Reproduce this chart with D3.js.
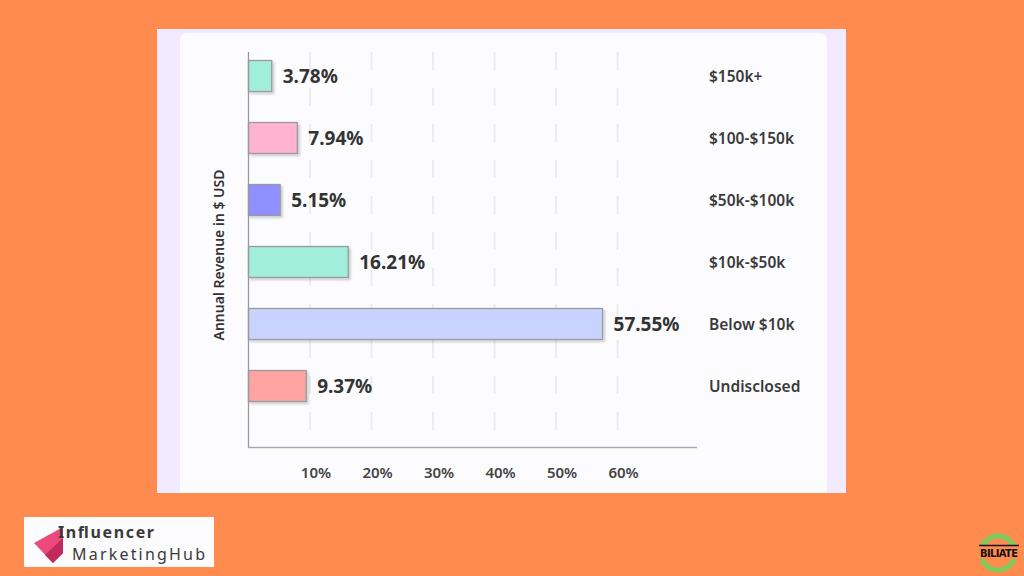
<!DOCTYPE html>
<html><head><meta charset="utf-8">
<script src="https://cdn.jsdelivr.net/npm/d3@7"></script>
<style>html,body{margin:0;padding:0;background:#FF8C4E;}svg{display:block;}</style>
</head><body>
<svg id="c" width="1024" height="576"></svg>
<script>
const categories = ["$150k+", "$100-$150k", "$50k-$100k", "$10k-$50k", "Below $10k", "Undisclosed"];
const values = [3.78, 7.94, 5.15, 16.21, 57.55, 9.37];
const barColors = ["#A0EEDB", "#FFB3CF", "#8F8FFF", "#A0EEDB", "#C9D3FF", "#FFA3A3"];
const tickValues = [10, 20, 30, 40, 50, 60];
const tickLabels = ["10%", "20%", "30%", "40%", "50%", "60%"];
const yTitle = "Annual Revenue in $ USD";

const svg = d3.select("#c");
const font = "'Noto Sans', 'Open Sans', sans-serif";

svg.append("rect").attr("width",1024).attr("height",576).attr("fill","#FF8C4E");
// panel
svg.append("rect").attr("x",157).attr("y",29).attr("width",689).attr("height",464).attr("fill","#F2EAFE");
svg.append("path").attr("d","M180,493 V41 Q180,33 188,33 H819 Q827,33 827,41 V493 Z").attr("fill","#FCFCFF");

const x = d3.scaleLinear().domain([0, 72.5]).range([248.5, 694.5]);
const y = d3.scaleBand().domain(categories).range([45, 417]).paddingInner(0.5).paddingOuter(0.25);

// gridlines
svg.append("g").selectAll("line").data(tickValues).join("line")
  .attr("x1", d=>x(d)).attr("x2", d=>x(d)).attr("y1", 52).attr("y2", 446)
  .attr("stroke","#ECECEC").attr("stroke-width",2).attr("stroke-dasharray","18,18");

// shadow filter
const defs = svg.append("defs");
const f = defs.append("filter").attr("id","sh").attr("x","-10%").attr("y","-20%").attr("width","130%").attr("height","160%");
f.append("feDropShadow").attr("dx",2).attr("dy",2).attr("stdDeviation",1.2).attr("flood-color","#000").attr("flood-opacity",0.18);

svg.append("g").selectAll("rect").data(values).join("rect")
  .attr("x", x(0)).attr("y", (d,i)=>y(categories[i]))
  .attr("width", d=>x(d)-x(0)).attr("height", y.bandwidth())
  .attr("fill", (d,i)=>barColors[i]).attr("stroke","#9A9A9A").attr("stroke-width",1.3)
  .attr("filter","url(#sh)");

// value labels
svg.append("g").selectAll("text").data(values).join("text")
  .attr("x", d=>x(d)+11).attr("y", (d,i)=>y(categories[i])+y.bandwidth()/2)
  .attr("dy","0.36em").attr("font-family",font).attr("font-weight",700).attr("font-size",19)
  .attr("fill","#333").text(d=>d.toFixed(2)+"%");

// category labels on the right
svg.append("g").selectAll("text").data(categories).join("text")
  .attr("x", 709).attr("y", d=>y(d)+y.bandwidth()/2)
  .attr("dy","0.36em").attr("font-family",font).attr("font-weight",600).attr("font-size",15.5)
  .attr("fill","#3a3a3a").text(d=>d);

// axes lines
svg.append("line").attr("x1",248.5).attr("x2",248.5).attr("y1",52).attr("y2",447.5).attr("stroke","#999").attr("stroke-width",1.3);
svg.append("line").attr("x1",248).attr("x2",697).attr("y1",447.5).attr("y2",447.5).attr("stroke","#aaa").attr("stroke-width",1.3);

// x tick labels
svg.append("g").selectAll("text").data(tickValues).join("text")
  .attr("x", d=>x(d)+6).attr("y", 473).attr("dy","0.36em").attr("text-anchor","middle")
  .attr("font-family",font).attr("font-weight",600).attr("font-size",15).attr("fill","#444")
  .text((d,i)=>tickLabels[i]);

// y title
svg.append("text").attr("transform","translate(219,255) rotate(-90)").attr("text-anchor","middle")
  .attr("dy","0.36em").attr("font-family",font).attr("font-weight",600).attr("font-size",14).attr("fill","#333")
  .text(yTitle);

// logo bottom-left
const lg = svg.append("g");
lg.append("rect").attr("x",24).attr("y",517).attr("width",190).attr("height",50).attr("fill","#FCFCFF");
lg.append("path").attr("d","M63,527 L34,543 L53,563 L63,553 Z").attr("fill","#EC4A7B");
lg.append("path").attr("d","M63,538 L63,553 L53,563 L45,555 Z").attr("fill","#C02A5C");
lg.append("text").attr("x",58).attr("y",532).attr("dy","0.36em").attr("font-family",font).attr("font-weight",700)
  .attr("font-size",16).attr("fill","#3a3a3a").attr("textLength",96).text("Influencer");
lg.append("text").attr("x",72).attr("y",554).attr("dy","0.36em").attr("font-family",font).attr("font-weight",400)
  .attr("font-size",16).attr("fill","#3a3a3a").attr("textLength",133).text("MarketingHub");

// badge bottom-right
const bg = svg.append("g");
bg.append("circle").attr("cx",998).attr("cy",553).attr("r",17).attr("fill","none").attr("stroke","#7CCB5C").attr("stroke-width",5);
bg.append("rect").attr("x",979).attr("y",545).attr("width",40).attr("height",14).attr("fill","#FF8C4E");
bg.append("line").attr("x1",979).attr("x2",1019).attr("y1",545.5).attr("y2",545.5).attr("stroke","#111").attr("stroke-width",1.5);
bg.append("text").attr("x",999).attr("y",553).attr("dy","0.36em").attr("text-anchor","middle")
  .attr("font-family","'DejaVu Sans Condensed','Liberation Sans Narrow',sans-serif").attr("font-weight",700)
  .attr("font-size",11).attr("fill","#111").attr("textLength",38).text("BILIATE");
</script>
</body></html>
